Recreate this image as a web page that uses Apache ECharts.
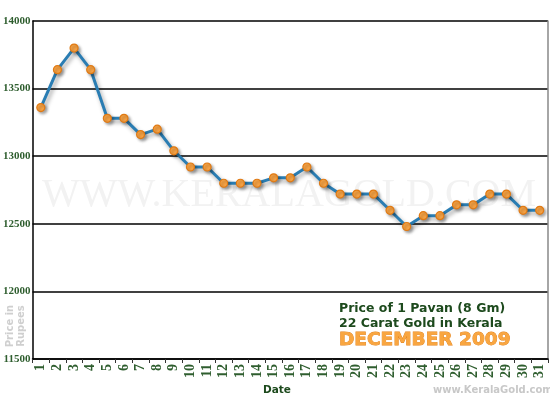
<!DOCTYPE html>
<html>
<head>
<meta charset="utf-8">
<script src="https://cdn.jsdelivr.net/npm/echarts@6/dist/echarts.min.js"></script>
<style>
html,body{margin:0;padding:0;background:#fff;}
#chart{width:550px;height:400px;}
</style>
</head>
<body>
<div id="chart"></div>
<script>
var days = ['1','2','3','4','5','6','7','8','9','10','11','12','13','14','15','16','17','18','19','20','21','22','23','24','25','26','27','28','29','30','31'];
var prices = [13360,13640,13800,13640,13280,13280,13160,13200,13040,12920,12920,12800,12800,12800,12840,12840,12920,12800,12720,12720,12720,12600,12480,12560,12560,12640,12640,12720,12720,12600,12600];
var yMin = 11500, yMax = 14000, yStep = 500;

var chart = echarts.init(document.getElementById('chart'));
var green = '#2f5e2f';
chart.setOption({
  animation: false,
  backgroundColor: '#fff',
  grid: {left: 29.5, right: 2, top: 21, bottom: 41},
  xAxis: {
    type: 'category',
    data: days,
    boundaryGap: true,
    axisLine: {show: true, lineStyle: {color: '#000', width: 1.5}},
    axisTick: {show: true, length: 4, lineStyle: {color: '#333'}},
    axisLabel: {rotate: 90, color: green, fontFamily: 'Liberation Serif', fontWeight: 'bold', fontSize: 14, margin: 5, interval: 0}
  },
  yAxis: [{
    type: 'value',
    min: yMin, max: yMax, interval: yStep,
    axisLine: {show: true, lineStyle: {color: '#000', width: 1.5}},
    axisTick: {show: false},
    axisLabel: {color: green, fontFamily: 'Liberation Serif', fontWeight: 'bold', fontSize: 11, margin: 2,
      formatter: function (v) { return String(v); }},
    splitLine: {show: true, lineStyle: {color: '#000', width: 1.5}}
  }, {
    type: 'value',
    position: 'right',
    min: yMin, max: yMax, interval: yStep,
    axisLine: {show: true, lineStyle: {color: '#888', width: 1.5}},
    axisTick: {show: false},
    axisLabel: {show: false},
    splitLine: {show: false}
  }],
  graphic: [
    {type: 'text', left: 42, top: 175, z: -1, silent: true,
      style: {text: 'WWW.KERALAGOLD.COM', fill: '#f2f2f2', font: '40px "Liberation Serif"'}},
    {type: 'text', x: 339, y: 302, style: {text: 'Price of 1 Pavan (8 Gm)', fill: '#1d4a1d', font: 'bold 12.5px "DejaVu Sans"'}},
    {type: 'text', x: 339, y: 317, style: {text: '22 Carat Gold in Kerala', fill: '#1d4a1d', font: 'bold 12.5px "DejaVu Sans"'}},
    {type: 'text', x: 339, y: 331, style: {text: 'DECEMBER 2009', fill: '#f9a640', stroke: '#e2801a', lineWidth: 0.8, font: 'bold 18.5px "DejaVu Sans"'}},
    {type: 'text', x: 277, y: 385, style: {text: 'Date', fill: '#1d4a1d', font: 'bold 10.5px "DejaVu Sans"', textAlign: 'center'}},
    {type: 'text', x: 433, y: 385, style: {text: 'www.KeralaGold.com', fill: '#c8c8c8', font: 'bold 10px "DejaVu Sans"'}},
    {type: 'text', x: 5, y: 326, rotation: Math.PI/2, style: {text: 'Price in', fill: '#cfcfcf', font: 'bold 10px "DejaVu Sans"', textAlign: 'center'}},
    {type: 'text', x: 16, y: 326, rotation: Math.PI/2, style: {text: 'Rupees', fill: '#cfcfcf', font: 'bold 10px "DejaVu Sans"', textAlign: 'center'}}
  ],
  series: [{
    type: 'line',
    data: prices,
    symbol: 'circle',
    symbolSize: 8,
    lineStyle: {color: '#2a7db3', width: 3, shadowColor: 'rgba(0,0,0,0.35)', shadowBlur: 4, shadowOffsetX: 2, shadowOffsetY: 3},
    itemStyle: {color: '#f9a445', borderColor: '#e07a14', borderWidth: 1.2, shadowColor: 'rgba(0,0,0,0.3)', shadowBlur: 3, shadowOffsetX: 2, shadowOffsetY: 2}
  }]
});
</script>
</body>
</html>
